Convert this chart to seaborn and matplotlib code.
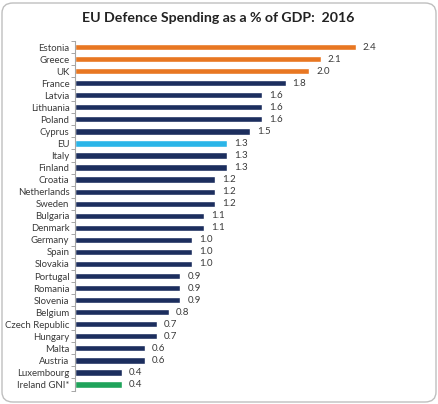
import matplotlib
matplotlib.use("Agg")
import matplotlib.pyplot as plt
import seaborn as sns
import pandas as pd
import numpy as np
from matplotlib.patches import FancyBboxPatch
from matplotlib.ticker import FixedLocator, NullFormatter

countries = ["Estonia", "Greece", "UK", "France", "Latvia", "Lithuania", "Poland", "Cyprus",
             "EU", "Italy", "Finland", "Croatia", "Netherlands", "Sweden", "Bulgaria", "Denmark",
             "Germany", "Spain", "Slovakia", "Portugal", "Romania", "Slovenia", "Belgium",
             "Czech Republic", "Hungary", "Malta", "Austria", "Luxembourg", "Ireland GNI*"]
values = [2.4, 2.1, 2.0, 1.8, 1.6, 1.6, 1.6, 1.5,
          1.3, 1.3, 1.3, 1.2, 1.2, 1.2, 1.1, 1.1,
          1.0, 1.0, 1.0, 0.9, 0.9, 0.9, 0.8,
          0.7, 0.7, 0.6, 0.6, 0.4, 0.4]

ORANGE = "#E87722"
NAVY = "#1C2E5E"
BLUE = "#2BB5E8"
GREEN = "#1FA35A"
colors = {}
for c in countries:
    colors[c] = NAVY
for c in ["Estonia", "Greece", "UK"]:
    colors[c] = ORANGE
colors["EU"] = BLUE
colors["Ireland GNI*"] = GREEN

df = pd.DataFrame({"country": countries, "value": values})

sns.set_theme(style="white")
plt.rcParams["font.family"] = ["Lato", "DejaVu Sans"]

fig = plt.figure(figsize=(4.39, 4.04), dpi=100)
W, H = 439, 404
n = len(countries)
top_px = 41.0
bot_px = 390.5
ax = fig.add_axes([75 / W, 1 - bot_px / H, 351 / W, (bot_px - top_px) / H])

sns.barplot(data=df, x="value", y="country", hue="country", palette=colors,
            orient="h", width=0.52, legend=False, ax=ax, saturation=1)

ax.set_xlim(0, 3.0)
ax.set_ylim(n - 0.5, -0.5)
ax.set_xlabel("")
ax.set_ylabel("")
ax.set_xticks([])
for s in ["top", "right", "bottom"]:
    ax.spines[s].set_visible(False)
ax.spines["left"].set_color("#A6A6A6")
ax.spines["left"].set_linewidth(0.8)
ax.tick_params(axis="y", which="major", length=0, pad=4, labelsize=6.9, labelcolor="#3A3A3A")
ax.yaxis.set_minor_locator(FixedLocator(np.arange(-0.5, n, 1.0)))
ax.yaxis.set_minor_formatter(NullFormatter())
ax.tick_params(axis="y", which="minor", length=3, width=0.7, color="#A6A6A6", left=True)

for i, v in enumerate(values):
    ax.text(v + 0.06, i, f"{v:.1f}", va="center", ha="left", fontsize=7.0, color="#3A3A3A")

fig.text(218 / W, 1 - 18 / H, "EU Defence Spending as a % of GDP:  2016", ha="center", va="center",
         fontsize=10.2, fontweight="bold", color="#222222")

border = FancyBboxPatch((2 / W, 2 / H), (W - 5) / W, (H - 5) / H,
                        boxstyle="round,pad=0,rounding_size=0.025",
                        transform=fig.transFigure, fill=False, edgecolor="#BFBFBF", linewidth=1.0)
fig.patches.append(border)

fig.savefig("out.png", dpi=100)
